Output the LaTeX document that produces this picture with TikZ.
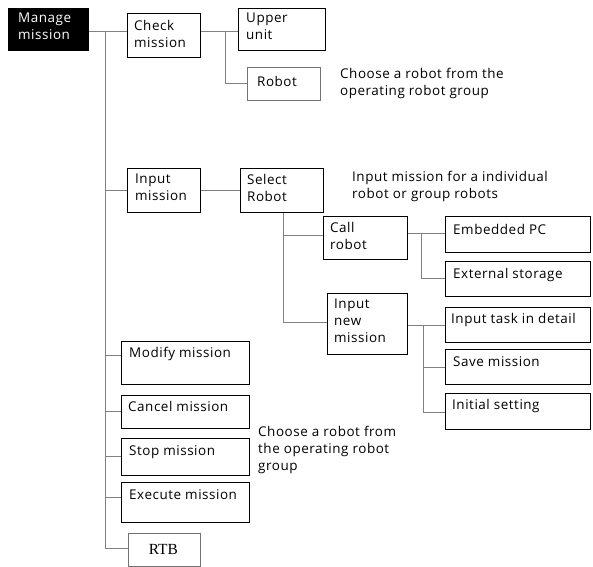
\documentclass[tikz,border=0pt]{standalone}
\usepackage{fontspec}
\setmainfont{Open Sans}[LetterSpace=4]
\newfontfamily\tms{Liberation Serif}
\begin{document}
\begin{tikzpicture}[x=1bp,y=-1bp,
  box/.style={draw=black, line width=1.1pt, rectangle, inner sep=0pt, anchor=north west},
  thinbox/.style={draw=black!55, line width=0.7pt, rectangle, inner sep=0pt, anchor=north west},
  txt/.style={anchor=north west, inner sep=0pt, align=left, font=\fontsize{13.5}{17}\selectfont},
  conn/.style={draw=black!50, line width=1pt}]
\useasboundingbox (0,0) rectangle (593,567);
% boxes
\node[box, fill=black, minimum width=80bp, minimum height=42bp] (mm) at (8,8) {};
\node[box, minimum width=73bp, minimum height=44bp] (check) at (127,13) {};
\node[box, line width=1.4pt, minimum width=87bp, minimum height=42bp] (upper) at (238,8) {};
\node[thinbox, minimum width=73bp, minimum height=33bp] (robot) at (247,67) {};
\node[box, minimum width=73bp, minimum height=44bp] (input) at (127,168) {};
\node[box, minimum width=83bp, minimum height=44bp] (select) at (240,168) {};
\node[box, minimum width=84bp, minimum height=43bp] (call) at (323,216) {};
\node[box, minimum width=80bp, minimum height=61bp] (inm) at (327,293) {};
\node[box, minimum width=145bp, minimum height=36bp] (emb) at (445,216) {};
\node[box, minimum width=145bp, minimum height=35bp] (ext) at (445,261) {};
\node[box, minimum width=145bp, minimum height=35bp] (itd) at (445,307) {};
\node[box, minimum width=145bp, minimum height=35bp] (save) at (445,349) {};
\node[box, minimum width=145bp, minimum height=36bp] (init) at (445,393) {};
\node[box, minimum width=128bp, minimum height=43bp] (modify) at (121,341) {};
\node[box, minimum width=128bp, minimum height=33bp] (cancel) at (121,395) {};
\node[box, minimum width=128bp, minimum height=37bp] (stop) at (121,438) {};
\node[box, line width=1.4pt, minimum width=128bp, minimum height=40bp] (exec) at (121,482) {};
\node[thinbox, minimum width=72bp, minimum height=33bp] (rtb) at (128,533) {};
% texts
\node[txt, text=white] (mm-t) at ([shift={(10,5)}]mm.north west) {Manage\\mission};
\node[txt] (check-t) at ([shift={(7,7)}]check.north west) {Check\\mission};
\node[txt] (upper-t) at ([shift={(8,5)}]upper.north west) {Upper\\unit};
\node[txt] (robot-t) at ([shift={(10,9)}]robot.north west) {Robot};
\node[txt] (input-t) at ([shift={(8,6)}]input.north west) {Input\\mission};
\node[txt] (select-t) at ([shift={(7,6)}]select.north west) {Select\\Robot};
\node[txt] (call-t) at ([shift={(7,6)}]call.north west) {Call\\robot};
\node[txt] (inm-t) at ([shift={(7,6)}]inm.north west) {Input\\new\\mission};
\node[txt] (emb-t) at ([shift={(8,8)}]emb.north west) {Embedded PC};
\node[txt] (ext-t) at ([shift={(8,7)}]ext.north west) {External storage};
\node[txt] (itd-t) at ([shift={(6,6)}]itd.north west) {Input task in detail};
\node[txt] (save-t) at ([shift={(8,7)}]save.north west) {Save mission};
\node[txt] (init-t) at ([shift={(7,6)}]init.north west) {Initial setting};
\node[txt] (modify-t) at ([shift={(8,6)}]modify.north west) {Modify mission};
\node[txt] (cancel-t) at ([shift={(7,6)}]cancel.north west) {Cancel mission};
\node[txt] (stop-t) at ([shift={(8,7)}]stop.north west) {Stop mission};
\node[txt] (exec-t) at ([shift={(8,7)}]exec.north west) {Execute mission};
\node[anchor=center, inner sep=0pt, font=\tms\fontsize{15.5}{18}\selectfont] (rtb-t) at ([xshift=-1bp]rtb.center) {RTB};
\node[txt] (note1) at (340,68) {Choose a robot from the\\operating robot group};
\node[txt] (note2) at (352,171) {Input mission for a individual\\robot or group robots};
\node[txt] (note3) at (258,426) {Choose a robot from\\the operating robot\\group};
% junction coordinates
\coordinate (t0) at (105,32);
\coordinate (tend) at (105,548);
\coordinate (c0) at (225,32);
\coordinate (c1) at (225,83);
\coordinate (s0) at (283,212);
\coordinate (s1) at (283,235);
\coordinate (s2) at (283,322);
\coordinate (k0) at (421,233);
\coordinate (k1) at (421,278);
\coordinate (n0) at (423,325);
\coordinate (n1) at (423,367);
\coordinate (n2) at (423,412);
% connectors
\draw[conn] (mm.east |- t0) -- (check.west |- t0);
\draw[conn] (t0) -- (tend) -- (rtb.west |- tend);
\draw[conn] (input.west |- 105,190) -- (105,190);
\draw[conn] (modify.west |- 105,355) -- (105,355);
\draw[conn] (cancel.west |- 105,411) -- (105,411);
\draw[conn] (stop.west |- 105,456) -- (105,456);
\draw[conn] (exec.west |- 105,497) -- (105,497);
\draw[conn] (check.east |- c0) -- (upper.west |- c0);
\draw[conn] (c0) -- (c1) -- (robot.west |- c1);
\draw[conn] (input.east |- 0,190) -- (select.west |- 0,190);
\draw[conn] (select.south -| s0) -- (s2) -- (inm.west |- s2);
\draw[conn] (s1) -- (call.west |- s1);
\draw[conn] (call.east |- k0) -- (emb.west |- k0);
\draw[conn] (k0) -- (k1) -- (ext.west |- k1);
\draw[conn] (inm.east |- n0) -- (itd.west |- n0);
\draw[conn] (n0) -- (n2) -- (init.west |- n2);
\draw[conn] (n1) -- (save.west |- n1);
\end{tikzpicture}
\end{document}
